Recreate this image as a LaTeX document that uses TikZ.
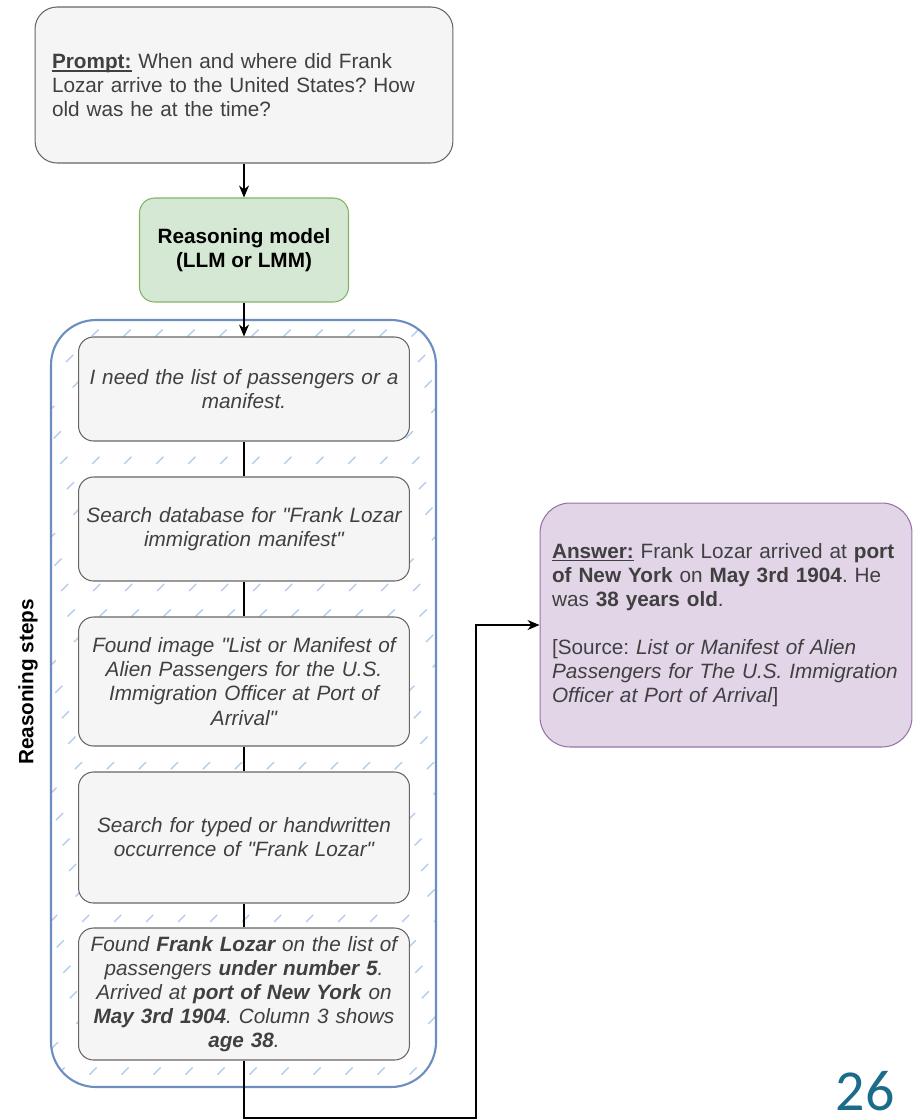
\documentclass[tikz,border=0pt]{standalone}
\usepackage{fontspec}
\setmainfont{Liberation Sans}
\newfontfamily\slidefont{Carlito}
\newsavebox\ulsave
\newcommand\ulbold[1]{\sbox\ulsave{#1}\rlap{\rule[-1.8pt]{\wd\ulsave}{0.6pt}}\usebox\ulsave}
\frenchspacing
\newcommand\dq{\textquotedbl}
\usetikzlibrary{positioning,arrows.meta}
\definecolor{boxgray}{HTML}{F5F5F5}
\definecolor{boxline}{HTML}{666666}
\definecolor{txtgray}{HTML}{404040}
\definecolor{modelfill}{HTML}{D5E8D4}
\definecolor{modelline}{HTML}{82B366}
\definecolor{frameline}{HTML}{6C8EBF}
\definecolor{hatchblue}{HTML}{B4CCEE}
\definecolor{answerfill}{HTML}{E1D5E7}
\definecolor{answerline}{HTML}{9673A6}
\definecolor{slideteal}{HTML}{1B6B8A}

\begin{document}
\begin{tikzpicture}[x=0.02cm,y=-0.02cm,>={Stealth[length=0.24cm,width=0.2cm]},
  every node/.style={font=\fontsize{11.8}{13.7}\selectfont,execute at begin node={\hyphenpenalty=10000}},
  promptbox/.style={draw=boxline,fill=boxgray,rounded corners=0.44cm,line width=0.6pt,
    minimum width=8.36cm,minimum height=3.12cm,text width=7.68cm,inner xsep=0.34cm,
    align=left,text=txtgray},
  modelbox/.style={draw=modelline,fill=modelfill,rounded corners=0.3cm,line width=0.6pt,
    minimum width=4.18cm,minimum height=2.08cm,align=center,font=\fontsize{11.8}{13.7}\selectfont\bfseries},
  stepbox/.style={draw=boxline,fill=boxgray,rounded corners=0.3cm,line width=0.6pt,
    minimum width=6.62cm,text width=6.5cm,inner xsep=0.06cm,inner ysep=0.1cm,align=center,
    font=\fontsize{11.8}{13.7}\selectfont\itshape,text=txtgray},
  answerbox/.style={draw=answerline,fill=answerfill,rounded corners=0.6cm,line width=0.6pt,
    minimum width=7.44cm,minimum height=4.88cm,text width=6.96cm,inner xsep=0.24cm,
    align=left,text=txtgray},
  frame/.style={draw=frameline,line width=1.2pt,rounded corners=0.9cm},
  hatchline/.style={hatchblue,line width=0.8pt,dash pattern=on 0.2cm off 0.52cm},
  conn/.style={line width=0.7pt}]
\useasboundingbox (0,0) rectangle (913,1120);

% frame round the reasoning steps
\begin{scope}
  \clip[rounded corners=0.9cm] (51,320) rectangle (436,1087);
  \foreach \i in {-800,-768,...,440}
    \draw[hatchline] (\i,1100) -- ++(800,-800);
\end{scope}
\draw[frame] (51,320) rectangle (436,1087);

\node[promptbox] (prompt) at (244,85) {\ulbold{\textbf{Prompt:}} When and where did Frank Lozar arrive to the United States? How old was he at the time?};
\node[modelbox] (model) at (244,250) {Reasoning model\\(LLM or LMM)};

\node[stepbox,minimum height=2.08cm] (step1) at (244,389) {I need the list of passengers or a\\manifest.};
\node[stepbox,minimum height=2.08cm] (step2) at (244,529) {Search database for \dq Frank Lozar\\immigration manifest\dq};
\node[stepbox,minimum height=2.58cm] (step3) at (244,681.5) {Found image \dq List or Manifest of\\Alien Passengers for the U.S.\\Immigration Officer at Port of\\Arrival\dq};
\node[stepbox,minimum height=2.62cm] (step4) at (244,837.5) {Search for typed or handwritten\\occurrence of \dq Frank Lozar\dq};
\node[stepbox,minimum height=2.64cm] (step5) at (244,994) {Found \textbf{Frank Lozar} on the list of\\passengers \textbf{under number 5}.\\Arrived at \textbf{port of New York} on\\\textbf{May 3rd 1904}. Column 3 shows\\\textbf{age 38}.};

\node[answerbox] (answer) at (726,625) {\ulbold{\textbf{Answer:}} Frank Lozar arrived at \textbf{port}\\\textbf{of New York} on \textbf{May 3rd 1904}. He\\was \textbf{38 years old}.\\[13.7pt]{[}Source: \textit{List or Manifest of Alien}\\\textit{Passengers for The U.S. Immigration}\\\textit{Officer at Port of Arrival}{]}};

\node[rotate=90,font=\fontsize{11.8}{13.7}\selectfont\bfseries] (lbl) at (28,682) {Reasoning steps};
\node[anchor=base,inner sep=0pt,text=slideteal,font=\fontsize{33}{36}\slidefont] (pagenum) at (865,1110) {26};

\coordinate (bendA) at (244,1118);
\coordinate (bendB) at (476,1118);

\draw[conn,->] (prompt) -- (model);
\draw[conn,->] (model) -- (step1);
\draw[conn] (step1) -- (step2);
\draw[conn] (step2) -- (step3);
\draw[conn] (step3) -- (step4);
\draw[conn] (step4) -- (step5);
\draw[conn,->] (step5) -- (bendA) -- (bendB) |- (answer);
\end{tikzpicture}
\end{document}
